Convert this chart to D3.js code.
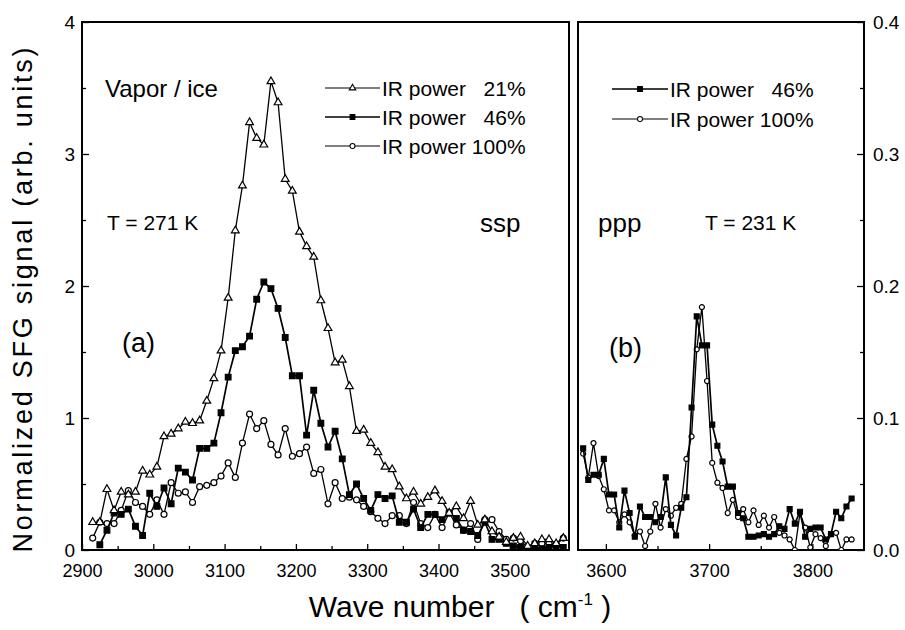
<!DOCTYPE html>
<html>
<head>
<meta charset="utf-8">
<script src="https://cdn.jsdelivr.net/npm/d3@7"></script>
<style>
  body { margin: 0; background: #fff; }
  svg text { font-family: "Liberation Sans", Arial, sans-serif; fill: #000; white-space: pre; }
</style>
</head>
<body>
<div id="chart"></div>
<script>
// wave numbers (cm-1) and normalized SFG signal, panel (a) ssp
const wnLeft = [2915, 2925, 2935, 2945, 2955, 2965, 2975, 2985, 2995, 3005, 3015, 3025, 3035, 3045, 3055, 3065, 3075,
  3085, 3095, 3105, 3115, 3125, 3135, 3145, 3155, 3165, 3175, 3185, 3195, 3205, 3215, 3225, 3235, 3245, 3255,
  3265, 3275, 3285, 3295, 3305, 3315, 3325, 3335, 3345, 3355, 3365, 3375, 3385, 3395, 3405, 3415, 3425, 3435,
  3445, 3455, 3465, 3475, 3485, 3495, 3505, 3515, 3525, 3535, 3545, 3555, 3565, 3575];

const ir21 = [0.21, 0.21, 0.46, 0.30, 0.44, 0.42, 0.44, 0.60, 0.57, 0.63, 0.86, 0.88, 0.92, 0.97, 0.96, 0.98, 1.13,
  1.30, 1.51, 1.91, 2.42, 2.76, 3.24, 3.12, 3.07, 3.55, 3.39, 2.81, 2.72, 2.41, 2.30, 2.22, 1.89, 1.68, 1.42,
  1.44, 1.24, 0.90, 0.91, 0.81, 0.74, 0.63, 0.61, 0.48, 0.39, 0.44, 0.35, 0.40, 0.45, 0.37, 0.28, 0.33, 0.24,
  0.37, 0.19, 0.23, 0.14, 0.10, 0.06, 0.09, 0.10, 0.03, 0.05, 0.08, 0.08, 0.05, 0.09];

// the 46% scan starts one step later
const ir46 = [null, 0.04, 0.15, 0.28, 0.27, 0.31, 0.18, 0.11, 0.43, 0.33, 0.47, 0.35, 0.62, 0.59, 0.53, 0.77, 0.77,
  0.81, 1.04, 1.31, 1.51, 1.54, 1.62, 1.90, 2.03, 1.98, 1.83, 1.61, 1.32, 1.32, 0.87, 1.21, 0.96, 0.78, 0.90,
  0.69, 0.42, 0.50, 0.39, 0.30, 0.42, 0.39, 0.41, 0.21, 0.21, 0.31, 0.17, 0.27, 0.27, 0.23, 0.28, 0.24, 0.15,
  0.14, 0.11, 0.21, 0.08, 0.08, 0.05, 0.03, 0.02, 0.00, 0.02, 0.01, 0.02, 0.03, 0.02];

const ir100 = [0.09, 0.21, 0.20, 0.20, 0.30, 0.45, 0.36, 0.33, 0.27, 0.38, 0.27, 0.51, 0.43, 0.44, 0.36, 0.48, 0.49,
  0.51, 0.56, 0.66, 0.55, 0.81, 1.03, 0.92, 0.98, 0.80, 0.72, 0.92, 0.71, 0.73, 0.78, 0.58, 0.61, 0.35, 0.51,
  0.39, 0.40, 0.38, 0.33, 0.29, 0.24, 0.20, 0.26, 0.26, 0.20, 0.36, 0.20, 0.17, 0.27, 0.17, 0.28, 0.19, 0.15,
  0.20, 0.08, 0.23, 0.23, 0.14, 0.08, 0.09, 0.07, 0.02, 0.05, 0.05, 0.05, 0.04, 0.09];

// panel (b) ppp
const wnRight = [3578, 3583, 3588, 3593, 3598, 3603, 3608, 3613, 3618, 3623, 3628, 3633, 3638, 3643, 3648,
  3653, 3658, 3663, 3668, 3673, 3678, 3683, 3688, 3693, 3698, 3703, 3708, 3713, 3718, 3723, 3728, 3733,
  3738, 3743, 3748, 3753, 3758, 3763, 3768, 3773, 3778, 3783, 3788, 3793, 3798, 3803, 3808, 3813, 3818,
  3823, 3828, 3833, 3838];

const ppp46 = [0.077, 0.053, 0.057, 0.057, 0.069, 0.042, 0.042, 0.017, 0.045, 0.028,
  0.010, 0.033, 0.025, 0.025, 0.021, 0.025, 0.055, 0.019, 0.011, 0.032,
  0.040, 0.108, 0.177, 0.155, 0.155, 0.095, 0.079, 0.067, 0.048, 0.048,
  0.028, 0.024, 0.010, 0.010, 0.011, 0.012, 0.010, 0.012, 0.018, 0.016,
  0.031, 0.020, 0.029, 0.010, 0.016, 0.017, 0.017, 0.008, 0.012, 0.029,
  0.024, 0.033, 0.039];

const ppp100 = [0.073, 0.055, 0.081, 0.056, 0.046, 0.030, 0.030, 0.021, 0.027, 0.021,
  0.011, 0.014, 0.003, 0.014, 0.035, 0.017, 0.031, 0.026, 0.032, 0.035,
  0.069, 0.086, 0.152, 0.184, 0.128, 0.066, 0.051, 0.047, 0.028, 0.038,
  0.025, 0.031, 0.021, 0.030, 0.019, 0.026, 0.017, 0.025, 0.013, 0.011,
  0.008, 0.000, 0.028, 0.017, 0.002, 0.012, 0.009, 0.003, 0.012, 0.013,
  0.000, 0.008, 0.008];

const leftTicks = [2900, 3000, 3100, 3200, 3300, 3400, 3500];
const rightTicks = [3600, 3700, 3800];

// Set up chart
const width = 905;
const height = 630;
const plotTop = 22;
const plotBottom = 550;

const svg = d3
  .select("#chart")
  .append("svg")
  .attr("width", width)
  .attr("height", height);

const xL = d3.scaleLinear().domain([2900, 3583]).range([82, 569]);
const xR = d3.scaleLinear().domain([3573, 3850]).range([578, 864]);
const yL = d3.scaleLinear().domain([0, 4]).range([plotBottom, plotTop]);
const yR = d3.scaleLinear().domain([0, 0.4]).range([plotBottom, plotTop]);

// clip paths for the two panels
const defs = svg.append("defs");
defs.append("clipPath").attr("id", "clipL")
  .append("rect").attr("x", 82).attr("y", plotTop).attr("width", 487).attr("height", plotBottom - plotTop);
defs.append("clipPath").attr("id", "clipR")
  .append("rect").attr("x", 578).attr("y", plotTop).attr("width", 286).attr("height", plotBottom - plotTop);

// Axes
function addAxis(axis, transform, fontSize) {
  const g = svg.append("g")
    .attr("transform", transform)
    .call(axis);
  g.select(".domain").remove();
  g.selectAll("line").attr("stroke", "#000").attr("stroke-width", 1.3);
  g.selectAll("text")
    .style("font-size", fontSize + "px")
    .style("font-family", '"Liberation Sans", Arial, sans-serif');
  return g;
}

addAxis(d3.axisBottom(xL).tickValues(leftTicks).tickFormat(d3.format("d")).tickSize(-6).tickPadding(14),
  `translate(0,${plotBottom})`, 18);
addAxis(d3.axisBottom(xL).tickValues([2950, 3050, 3150, 3250, 3350, 3450, 3550]).tickFormat("").tickSize(-4),
  `translate(0,${plotBottom})`, 18);
addAxis(d3.axisBottom(xR).tickValues(rightTicks).tickFormat(d3.format("d")).tickSize(-6).tickPadding(14),
  `translate(0,${plotBottom})`, 18);
addAxis(d3.axisBottom(xR).tickValues([3650, 3750]).tickFormat("").tickSize(-4),
  `translate(0,${plotBottom})`, 18);

addAxis(d3.axisLeft(yL).tickValues([0, 1, 2, 3, 4]).tickFormat(d3.format("d")).tickSize(-7).tickPadding(7),
  "translate(82,0)", 19);
addAxis(d3.axisLeft(yL).tickValues([0.5, 1.5, 2.5, 3.5]).tickFormat("").tickSize(-4),
  "translate(82,0)", 19);
addAxis(d3.axisRight(yR).tickValues([0, 0.1, 0.2, 0.3, 0.4]).tickFormat(d3.format(".1f")).tickSize(-7).tickPadding(9),
  "translate(864,0)", 19);
addAxis(d3.axisRight(yR).tickValues([0.05, 0.15, 0.25, 0.35]).tickFormat("").tickSize(-4),
  "translate(864,0)", 19);

// Panel frames
svg.append("rect")
  .attr("x", 82).attr("y", plotTop).attr("width", 487).attr("height", plotBottom - plotTop)
  .attr("fill", "none").attr("stroke", "#000").attr("stroke-width", 2);
svg.append("rect")
  .attr("x", 578).attr("y", plotTop).attr("width", 286).attr("height", plotBottom - plotTop)
  .attr("fill", "none").attr("stroke", "#000").attr("stroke-width", 2);

// Series drawing
function drawSeries(clip, xs, ys, xScale, yScale, marker, lineWidth) {
  const pts = xs.map((x, i) => [x, ys[i]]).filter((d) => d[1] !== null);
  const g = svg.append("g").attr("clip-path", `url(#${clip})`);
  const line = d3.line().x((d) => xScale(d[0])).y((d) => yScale(d[1]));
  g.append("path")
    .datum(pts)
    .attr("d", line)
    .attr("fill", "none")
    .attr("stroke", "#000")
    .attr("stroke-width", lineWidth);
  g.selectAll(null)
    .data(pts)
    .enter()
    .append("path")
    .attr("transform", (d) => `translate(${xScale(d[0])},${yScale(d[1])})`)
    .attr("d", d3.symbol().type(marker.type).size(marker.size)())
    .attr("fill", marker.fill)
    .attr("stroke", "#000")
    .attr("stroke-width", 1.2);
}

const triangle = { type: d3.symbolTriangle, size: 26, fill: "#fff" };
const square = { type: d3.symbolSquare, size: 32, fill: "#000" };
const circle = { type: d3.symbolCircle, size: 28, fill: "#fff" };
const squareSmall = { type: d3.symbolSquare, size: 24, fill: "#000" };
const circleSmall = { type: d3.symbolCircle, size: 20, fill: "#fff" };

drawSeries("clipL", wnLeft, ir100, xL, yL, circle, 1.3);
drawSeries("clipL", wnLeft, ir46, xL, yL, square, 1.7);
drawSeries("clipL", wnLeft, ir21, xL, yL, triangle, 1.3);

drawSeries("clipR", wnRight, ppp100, xR, yR, circleSmall, 1.3);
drawSeries("clipR", wnRight, ppp46, xR, yR, squareSmall, 1.7);

// Legends
function legendRow(x1, x2, y, marker, lineWidth, label) {
  svg.append("line")
    .attr("x1", x1).attr("x2", x2).attr("y1", y).attr("y2", y)
    .attr("stroke", "#000").attr("stroke-width", lineWidth);
  svg.append("path")
    .attr("transform", `translate(${(x1 + x2) / 2},${y})`)
    .attr("d", d3.symbol().type(marker.type).size(marker.size * 0.7)())
    .attr("fill", marker.fill)
    .attr("stroke", "#000")
    .attr("stroke-width", 1.1);
  svg.append("text")
    .attr("x", x2 + 2)
    .attr("y", y)
    .attr("dy", "0.36em")
    .style("font-size", "21px")
    .text(label);
}

legendRow(325, 380, 88, triangle, 1.2, "IR power   21%");
legendRow(325, 380, 117, square, 1.6, "IR power   46%");
legendRow(325, 380, 146, circle, 1.2, "IR power 100%");

legendRow(612, 668, 89, square, 1.6, "IR power   46%");
legendRow(612, 668, 119, circle, 1.2, "IR power 100%");

// Annotations
function label(x, y, size, txt) {
  svg.append("text").attr("x", x).attr("y", y).style("font-size", size + "px").text(txt);
}
label(105, 97, 24, "Vapor / ice");
label(107, 230, 21, "T = 271 K");
label(480, 232, 26, "ssp");
label(122, 352, 27, "(a)");
label(598, 232, 26, "ppp");
label(705, 230, 21, "T = 231 K");
label(609, 357, 27, "(b)");

// Axis titles
const xTitle = svg.append("text")
  .attr("x", 460)
  .attr("y", 617)
  .attr("text-anchor", "middle")
  .style("font-size", "30px");
xTitle.append("tspan").text("Wave number   ( cm");
xTitle.append("tspan").attr("dy", -12).style("font-size", "17px").text("-1");
xTitle.append("tspan").attr("dy", 12).text(" )");

svg.append("text")
  .attr("transform", "translate(32,300) rotate(-90)")
  .attr("text-anchor", "middle")
  .attr("textLength", 505)
  .attr("lengthAdjust", "spacing")
  .style("font-size", "27px")
  .text("Normalized SFG signal (arb. units)");
</script>
</body>
</html>
